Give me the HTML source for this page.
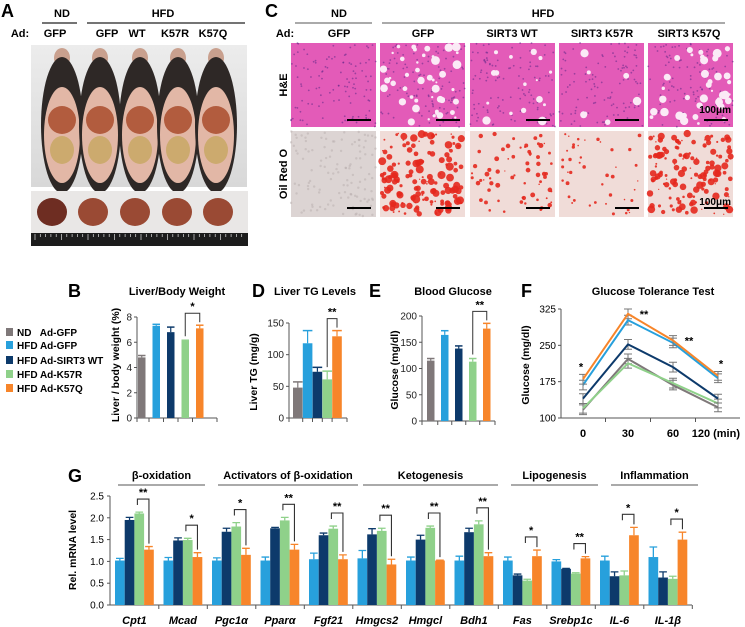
<!DOCTYPE html>
<html><head><meta charset="utf-8">
<style>
html,body{margin:0;padding:0;background:#fff;}
svg{display:block;font-family:"Liberation Sans",Arial,sans-serif;}
.b{font-weight:bold;}
</style></head>
<body>
<svg id="fig" width="745" height="627" viewBox="0 0 745 627" xmlns="http://www.w3.org/2000/svg">
<defs>
<linearGradient id="mouseBg" x1="0" y1="0" x2="0" y2="1"><stop offset="0" stop-color="#ececec"/><stop offset="1" stop-color="#d8d8d8"/></linearGradient>
</defs>
<!-- Panel A -->
<g>
<text x="1" y="17" font-size="18" class="b">A</text>
<text x="62" y="17" font-size="11" class="b" text-anchor="middle">ND</text>
<line x1="42" y1="23" x2="77" y2="23" stroke="#222" stroke-width="1.2"/>
<text x="163" y="17" font-size="11" class="b" text-anchor="middle">HFD</text>
<line x1="87" y1="23" x2="245" y2="23" stroke="#222" stroke-width="1.2"/>
<text x="20" y="37" font-size="11" class="b" text-anchor="middle">Ad:</text>
<text x="55" y="37" font-size="11" class="b" text-anchor="middle">GFP</text>
<text x="107" y="37" font-size="11" class="b" text-anchor="middle">GFP</text>
<text x="137" y="37" font-size="11" class="b" text-anchor="middle">WT</text>
<text x="175" y="37" font-size="11" class="b" text-anchor="middle">K57R</text>
<text x="213" y="37" font-size="11" class="b" text-anchor="middle">K57Q</text>
<g id="mousePhoto">
<rect x="31" y="45" width="216" height="142" fill="url(#mouseBg)"/>
</g>
<g id="liverPhoto">
<rect x="31" y="191" width="217" height="55" fill="#e9e7e6"/>
<rect x="31" y="233" width="217" height="13" fill="#1c1c1c"/>
</g>
</g>
<!-- Panel C -->
<g>
<text x="265" y="17" font-size="18" class="b">C</text>
<text x="339" y="17" font-size="11" class="b" text-anchor="middle">ND</text>
<line x1="295" y1="23" x2="372" y2="23" stroke="#777" stroke-width="1.2"/>
<text x="543" y="17" font-size="11" class="b" text-anchor="middle">HFD</text>
<line x1="382" y1="23" x2="725" y2="23" stroke="#777" stroke-width="1.2"/>
<text x="285" y="37" font-size="11" class="b" text-anchor="middle">Ad:</text>
<text x="339" y="37" font-size="11" class="b" text-anchor="middle">GFP</text>
<text x="423" y="37" font-size="11" class="b" text-anchor="middle">GFP</text>
<text x="512" y="37" font-size="11" class="b" text-anchor="middle">SIRT3 WT</text>
<text x="602" y="37" font-size="11" class="b" text-anchor="middle">SIRT3 K57R</text>
<text x="689" y="37" font-size="11" class="b" text-anchor="middle">SIRT3 K57Q</text>
<text transform="translate(287,85) rotate(-90)" font-size="11" class="b" text-anchor="middle">H&amp;E</text>
<text transform="translate(287,174) rotate(-90)" font-size="11" class="b" text-anchor="middle">Oil Red O</text>
<g id="histo"></g>
</g>
<!-- Legend -->
<g>
<rect x="6" y="328" width="7" height="8" fill="#7f7879"/><text x="17" y="336" font-size="10" class="b">ND&#160;&#160;&#160;Ad-GFP</text>
<rect x="6" y="341" width="7" height="8" fill="#27a0dc"/><text x="17" y="349" font-size="10" class="b">HFD Ad-GFP</text>
<rect x="6" y="356" width="7" height="8" fill="#0d3a6b"/><text x="17" y="364" font-size="10" class="b">HFD Ad-SIRT3 WT</text>
<rect x="6" y="370" width="7" height="8" fill="#8fd18a"/><text x="17" y="378" font-size="10" class="b">HFD Ad-K57R</text>
<rect x="6" y="384" width="7" height="8" fill="#f7852a"/><text x="17" y="392" font-size="10" class="b">HFD Ad-K57Q</text>
</g>
<text x="68" y="297" font-size="18" class="b">B</text>
<text x="177" y="295" font-size="11" class="b" text-anchor="middle">Liver/Body Weight</text>
<text transform="translate(119,365) rotate(-90)" font-size="10.5" class="b" text-anchor="middle">Liver / body weight (%)</text>
<text x="252" y="297" font-size="18" class="b">D</text>
<text x="315" y="295" font-size="11" class="b" text-anchor="middle">Liver TG Levels</text>
<text transform="translate(257,372) rotate(-90)" font-size="10.5" class="b" text-anchor="middle">Liver TG (mg/g)</text>
<text x="369" y="297" font-size="18" class="b">E</text>
<text x="453" y="295" font-size="11" class="b" text-anchor="middle">Blood Glucose</text>
<text transform="translate(398,370) rotate(-90)" font-size="10.5" class="b" text-anchor="middle">Glucose (mg/dl)</text>
<text x="521" y="297" font-size="18" class="b">F</text>
<text x="653" y="295" font-size="11" class="b" text-anchor="middle">Glucose Tolerance Test</text>
<text transform="translate(529,365) rotate(-90)" font-size="10.5" class="b" text-anchor="middle">Glucose (mg/dl)</text>
<text x="68" y="482" font-size="18" class="b">G</text>
<text transform="translate(76,550) rotate(-90)" font-size="10.5" class="b" text-anchor="middle">Rel. mRNA level</text>
<g id="charts"></g>
</svg>
<script>
// ---- data ----
const barColors = ['#7f7879','#27a0dc','#0d3a6b','#8fd18a','#f7852a'];
const bValues = [4.8, 7.3, 6.8, 6.1, 7.1];
const bErrors = [0.15, 0.12, 0.4, 0.06, 0.25];
const bTicks = [0, 2, 4, 6, 8];
const dValues = [48, 118, 73, 61, 129];
const dErrors = [9, 20, 7, 13, 9];
const dTicks = [0, 50, 100, 150];
const eValues = [115, 164, 138, 113, 176];
const eErrors = [4, 8, 5, 6, 10];
const eTicks = [0, 50, 100, 150, 200];
const fTimes = ['0', '30', '60', '120'];
const fTicks = [100, 175, 250, 325];
const fND = [117, 222, 168, 122];
const fGFP = [168, 302, 255, 182];
const fWT = [140, 252, 205, 140];
const fK57R = [120, 213, 172, 130];
const fK57Q = [180, 315, 260, 187];
const fErr = [10, 10, 10, 9];
const fStars = ['*', '**', '**', '*'];
const gGenes = ['Cpt1','Mcad','Pgc1\u03b1','Ppar\u03b1','Fgf21','Hmgcs2','Hmgcl','Bdh1','Fas','Srebp1c','IL-6','IL-1\u03b2'];
const gBlue  = [1.02,1.02,1.02,1.02,1.05,1.07,1.02,1.02,1.02,1.00,1.02,1.10];
const gNavy  = [1.95,1.48,1.68,1.76,1.60,1.62,1.50,1.67,0.68,0.83,0.66,0.63];
const gGreen = [2.10,1.49,1.80,1.94,1.75,1.70,1.77,1.85,0.56,0.72,0.68,0.60];
const gOrange= [1.27,1.10,1.15,1.27,1.05,0.93,1.02,1.12,1.12,1.07,1.60,1.50];
const gBlueErr  = [0.05,0.07,0.06,0.08,0.14,0.18,0.08,0.10,0.08,0.04,0.10,0.23];
const gNavyErr  = [0.06,0.06,0.08,0.02,0.05,0.13,0.10,0.09,0.03,0.01,0.10,0.13];
const gGreenErr = [0.03,0.04,0.09,0.07,0.06,0.06,0.04,0.08,0.03,0.02,0.10,0.06];
const gOrangeErr= [0.07,0.10,0.15,0.12,0.10,0.12,0.01,0.08,0.14,0.04,0.18,0.17];
const gStars = ['**','*','*','**','**','**','**','**','*','**','*','*'];
const gTicks = ['0.0','0.5','1.0','1.5','2.0','2.5'];
const gGroups = ['\u03b2-oxidation','Activators of \u03b2-oxidation','Ketogenesis','Lipogenesis','Inflammation'];

const NS = 'http://www.w3.org/2000/svg';
function mk(tag, attrs, parent){
  const el = document.createElementNS(NS, tag);
  for (const k in attrs) el.setAttribute(k, attrs[k]);
  parent.appendChild(el);
  return el;
}
const root = document.getElementById('charts');

// ---- small bar charts ----
function barChart(name, values, errors, ticks, ax){
  const g = mk('g', {}, root);
  
  
  const maxT = ticks[ticks.length-1];
  const y = v => ax.y0 - v/maxT*(ax.y0-ax.yTop);
  const axis = mk('path', {d:`M${ax.x0},${ax.yTop} V${ax.y0} H${ax.x1}`, stroke:'#555', fill:'none', 'stroke-width':1}, g);
  
  
  ticks.forEach(t => {
    mk('line', {x1:ax.x0-3, x2:ax.x0, y1:y(t), y2:y(t), stroke:'#555'}, g);
    const tl = mk('text', {x:ax.x0-5, y:y(t)+3.5, 'font-size':10, 'text-anchor':'end', fill:'#222'}, g);
    tl.textContent = t;
    
    
  });
  const bx = i => ax.first + i*ax.step;
  mk('line', {x1:ax.x0, x2:ax.x0, y1:ax.y0, y2:ax.y0+4, stroke:'#555'}, g);
  values.forEach((v, i) => {
    const r = mk('rect', {x:bx(i), y:y(v), width:ax.w, height:ax.y0-y(v), fill:barColors[i]}, g);
    
    
    const cx = bx(i)+ax.w/2, top = y(v+errors[i]);
    mk('line', {x1:cx, x2:cx, y1:y(v), y2:top, stroke:barColors[i], 'stroke-width':1.2}, g);
    mk('line', {x1:bx(i), x2:bx(i)+ax.w, y1:top, y2:top, stroke:barColors[i], 'stroke-width':1.5}, g);
    const tx = i < values.length-1 ? (bx(i)+ax.w+bx(i+1))/2 : ax.x1;
    mk('line', {x1:tx, x2:tx, y1:ax.y0, y2:ax.y0+4, stroke:'#555'}, g);
  });
  const lx = bx(3)+ax.w/2, rx = bx(4)+ax.w/2;
  const topY = Math.min(y(values[3]+errors[3]), y(values[4]+errors[4])) - 12;
  mk('path', {d:`M${lx},${y(values[3]+errors[3])-4} V${topY} H${rx} V${y(values[4]+errors[4])-3}`, stroke:'#333', fill:'none', 'stroke-width':1}, g);
  const st = mk('text', {x:(lx+rx)/2, y:topY-3, 'font-size':11, 'text-anchor':'middle', class:'b'}, g);
  st.textContent = ax.star;
  
  
}
barChart('liver-body-weight-chart', bValues, bErrors, bTicks, {x0:137, x1:217, y0:418, yTop:317, first:138, step:14.5, w:7.5, star:'*'});
barChart('liver-tg-chart', dValues, dErrors, dTicks, {x0:289, x1:347, y0:418, yTop:323, first:293, step:9.8, w:9.6, star:'**'});
barChart('blood-glucose-chart', eValues, eErrors, eTicks, {x0:422, x1:495, y0:421, yTop:316, first:427, step:14, w:7.5, star:'**'});

// ---- GTT line chart ----
(function(){
  const g = mk('g', {}, root);
  
  
  const y0 = 418, yTop = 309, x0 = 561, x1 = 740;
  const y = v => y0 - (v-100)/(325-100)*(y0-yTop);
  const x = i => 583 + i*45;
  const axis = mk('path', {d:`M${x0},${yTop} V${y0} H${x1}`, stroke:'#555', fill:'none'}, g);
  
  
  fTicks.forEach(t => {
    mk('line', {x1:x0-3, x2:x0, y1:y(t), y2:y(t), stroke:'#555'}, g);
    const tl = mk('text', {x:x0-5, y:y(t)+3.5, 'font-size':10, 'text-anchor':'end'}, g);
    tl.textContent = t;
    
    
  });
  fTimes.forEach((t, i) => {
    if (i < fTimes.length-1) mk('line', {x1:x(i)+22.5, x2:x(i)+22.5, y1:y0, y2:y0+4, stroke:'#555'}, g);
    const last = i === fTimes.length-1;
    const tl = mk('text', {x: last ? 740 : x(i), y:437, 'font-size':11, 'text-anchor': last ? 'end' : 'middle', class:'b'}, g);
    tl.textContent = last ? t + ' (min)' : t;
    
    
  });
  const series = [[fND,barColors[0],'nd-gfp'],[fK57R,barColors[3],'k57r'],[fWT,barColors[2],'sirt3-wt'],[fGFP,barColors[1],'hfd-gfp'],[fK57Q,barColors[4],'k57q']];
  series.forEach(([vals, col, nm]) => {
    vals.forEach((v, i) => {
      const e = fErr[i];
      mk('path', {d:`M${x(i)},${y(v-e)} V${y(v+e)} M${x(i)-4},${y(v-e)} H${x(i)+4} M${x(i)-4},${y(v+e)} H${x(i)+4}`, stroke:'#777', 'stroke-width':1, fill:'none'}, g);
    });
    const l = mk('polyline', {points: vals.map((v,i)=>`${x(i)},${y(v)}`).join(' '), stroke:col, 'stroke-width':2, fill:'none'}, g);
    
    
  });
  fStars.forEach((s, i) => {
    const top = Math.max(fK57Q[i], fGFP[i]) + fErr[i];
    let tx, ty;
    if (i === 0) { tx = x(i)-2; ty = y(top)-4; }
    else if (i === 3) { tx = x(i)+3; ty = y(top)-4; }
    else { tx = x(i)+16; ty = y(fK57Q[i])+4; }
    const t = mk('text', {x:tx, y:ty, 'font-size':11, 'text-anchor':'middle', class:'b'}, g);
    t.textContent = s;
    
    
  });
})();

// ---- mRNA grouped bar chart ----
(function(){
  const g = mk('g', {}, root);
  
  
  const y0 = 605, yTop = 496, x0 = 110, x1 = 692;
  const y = v => y0 - v/2.5*(y0-yTop);
  const step = 48.5, w = 9.7, first = 115;
  const axis = mk('path', {d:`M${x0},${yTop} V${y0} H${x1}`, stroke:'#555', fill:'none'}, g);
  
  
  gTicks.forEach(t => {
    const v = parseFloat(t);
    mk('line', {x1:x0-3, x2:x0, y1:y(v), y2:y(v), stroke:'#555'}, g);
    const tl = mk('text', {x:x0-6, y:y(v)+3.5, 'font-size':10, 'text-anchor':'end'}, g);
    tl.textContent = t;
    
    
  });
  const cols = [barColors[1], barColors[2], barColors[3], barColors[4]];
  gGenes.forEach((gene, i) => {
    const gx = first + i*step;
    const vals = [gBlue[i], gNavy[i], gGreen[i], gOrange[i]];
    const errs = [gBlueErr[i], gNavyErr[i], gGreenErr[i], gOrangeErr[i]];
    vals.forEach((v, j) => {
      const bx = gx + j*w;
      const r = mk('rect', {x:bx, y:y(v), width:w, height:y0-y(v), fill:cols[j]}, g);
      
      
      const top = y(v+errs[j]), cx = bx + w/2;
      mk('path', {d:`M${cx},${y(v)} V${top} M${bx+1},${top} H${bx+w-1}`, stroke:cols[j], 'stroke-width':1.3, fill:'none'}, g);
    });
    mk('line', {x1:gx+4*w+5, x2:gx+4*w+5, y1:y0, y2:y0+4, stroke:'#555'}, g);
    const lbl = mk('text', {x:gx+2*w, y:624, 'font-size':11, 'text-anchor':'middle', 'font-style':'italic', class:'b'}, g);
    lbl.textContent = gene;
    
    
    const lx = gx + 2*w + 3, rx = gx + 3*w + w/2;
    const topV = Math.max(vals[2]+errs[2], vals[3]+errs[3]) + 0.3;
    mk('path', {d:`M${lx},${y(topV)+6} V${y(topV)} H${rx} V${y(vals[3]+errs[3])-3}`, stroke:'#333', fill:'none', 'stroke-width':1.1}, g);
    const st = mk('text', {x:(lx+rx)/2, y:y(topV)-3, 'font-size':11, 'text-anchor':'middle', class:'b'}, g);
    st.textContent = gStars[i];
    
    
  });
  const groupSpans = [[118,205],[218,358],[363,498],[511,598],[611,698]];
  gGroups.forEach((gr, k) => {
    const [a, b] = groupSpans[k];
    mk('line', {x1:a, x2:b, y1:485, y2:485, stroke:'#777', 'stroke-width':1.2}, g);
    const t = mk('text', {x:(a+b)/2, y:479, 'font-size':11, 'text-anchor':'middle', class:'b'}, g);
    t.textContent = gr;
    
    
  });
})();

// ---- decorative photos (textures) ----
let seed = 7;
function rnd(){ seed = (seed*16807) % 2147483647; return seed/2147483647; }
(function(){
  const mp = document.getElementById('mousePhoto');
  [62,100,140,178,216].forEach((cx, i) => {
    const m = mk('g', {}, mp);
    
    
    mk('ellipse', {cx:cx, cy:58, rx:8, ry:10, fill:'#c9a08e'}, m);
    mk('ellipse', {cx:cx, cy:125, rx:21, ry:68, fill:'#2e2826'}, m);
    mk('ellipse', {cx:cx, cy:135, rx:18, ry:48, fill:'#e2b7a6'}, m);
    mk('ellipse', {cx:cx, cy:120, rx:14, ry:14, fill:'#b25c3e'}, m);
    mk('ellipse', {cx:cx, cy:150, rx:12, ry:14, fill:'#c7a660', opacity:0.8}, m);
  });
  const lp = document.getElementById('liverPhoto');
  [52,93,135,177,218].forEach((cx, i) => {
    const l = mk('ellipse', {cx:cx, cy:212, rx:15, ry:14, fill: i===0 ? '#6e2d22' : '#9a4a34'}, lp);
    
    
  });
  for (let k = 0; k < 40; k++) mk('line', {x1:35+k*5.3, x2:35+k*5.3, y1:234, y2: k%5===0?240:237, stroke:'#ddd', 'stroke-width':0.7}, lp);
  const h = document.getElementById('histo');
  const colsX = [291,380,470,559,648];
  const fat = [0, 1, 0.35, 0.15, 0.9];
  colsX.forEach((cx, c) => {
    const he = mk('g', {}, h);
    
    
    mk('rect', {x:cx, y:43, width:85, height:84, fill:'#e35bb8'}, he);
    for (let k = 0; k < 110; k++) mk('circle', {cx:cx+rnd()*85, cy:43+rnd()*84, r:0.9, fill:'#6a2d8c', opacity:0.6}, he);
    const nb = Math.round(fat[c]*45);
    for (let k = 0; k < nb; k++) mk('circle', {cx:cx+3+rnd()*79, cy:46+rnd()*78, r:1+rnd()*3.5, fill:'#fbeaf6'}, he);
    mk('line', {x1:cx+56, x2:cx+80, y1:120, y2:120, stroke:'#000', 'stroke-width':2}, he);
    const orr = mk('g', {}, h);
    
    
    mk('rect', {x:cx, y:131, width:85, height:86, fill: c===0 ? '#dcd4d3' : '#f0dcd8'}, orr);
    if (c === 0) for (let k = 0; k < 120; k++) mk('circle', {cx:cx+rnd()*85, cy:131+rnd()*86, r:1.2, fill:'#b8aeae', opacity:0.5}, orr);
    const nr = c===0 ? 0 : Math.round(fat[c]*120)+25;
    for (let k = 0; k < nr; k++) mk('circle', {cx:cx+2+rnd()*81, cy:133+rnd()*82, r:0.6+rnd()*(1+fat[c]*2.5), fill:'#e4281e', opacity:0.9}, orr);
    mk('line', {x1:cx+56, x2:cx+80, y1:208, y2:208, stroke:'#000', 'stroke-width':2}, orr);
  });
  const s1 = mk('text', {x:731, y:113, 'font-size':10, 'text-anchor':'end', class:'b'}, h);
  s1.textContent = '100\u03bcm';
  
  
  const s2 = mk('text', {x:731, y:205, 'font-size':10, 'text-anchor':'end', class:'b'}, h);
  s2.textContent = '100\u03bcm';
  
  
})();
</script>
</body></html>
